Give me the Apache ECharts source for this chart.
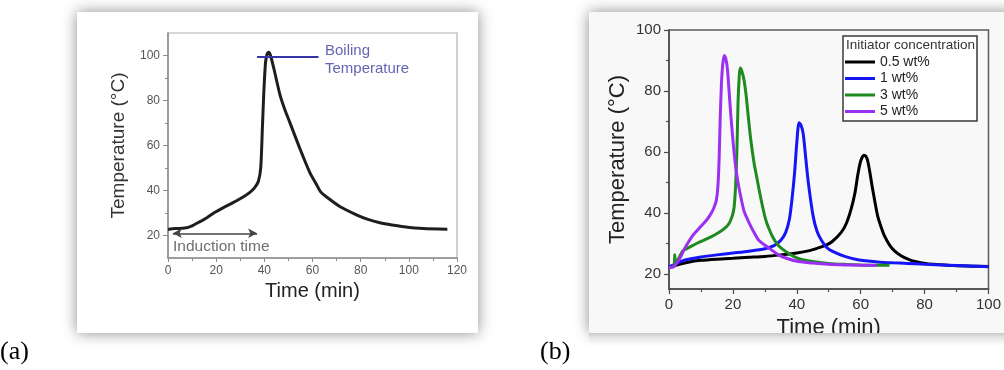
<!DOCTYPE html>
<html>
<head>
<meta charset="utf-8">
<script src="https://cdn.jsdelivr.net/npm/echarts@6/dist/echarts.min.js"></script>
<style>
html,body{margin:0;padding:0;background:#fff;}
#c{width:1004px;height:370px;}
</style>
</head>
<body>
<div id="c"></div>
<script>
// ---------- Panel (a) ----------
var tempCurveA = [
  [0,22.7],[3,23.1],[7,23.3],[10,24.3],[13,26],[16,27.8],[19,30],[23,32.4],[27,34.6],
  [31,37],[34,39.2],[36,41.3],[37.5,44],[38.5,50],[39.2,68],[39.8,84],[40.5,97],
  [41.2,100.8],[41.8,101.5],[42.5,100.2],[44,94],[46.5,82.5],[48.5,76],[50.5,70.5],
  [55,58],[59,47.7],[61.5,43],[63.3,39.5],[66,37],[71.5,32.8],[78.5,29.1],[83,27.2],
  [88,25.7],[93,24.7],[98,23.9],[106,23.1],[116,22.8]
];
var boilingLineA = [[37,99.5],[62.5,99.5]];
var inductionArrowA = [[2,21],[37,21]];
var xTicksA = [0,20,40,60,80,100,120];
var yTicksA = [20,40,60,80,100];
var yMinorA = [30,50,70,90];

// ---------- Panel (b) ----------
var seriesNamesB = ['0.5 wt%','1 wt%','3 wt%','5 wt%'];
var black05 = [
  [0,22.2],[3,23.0],[6,23.8],[10,24.4],[15,24.8],[20,25.1],[25,25.4],[30,25.7],[35,26.2],
  [40,26.8],[44,27.6],[46.5,28.4],[48.8,29.2],[51,30.5],[53.9,33.6],[55.5,36.5],[57,41.2],
  [58.2,46.5],[59.1,52.5],[60,57],[61,58.9],[61.6,58.6],[62.2,57],[63,52.5],[63.7,48],
  [65.3,39],[66.5,35],[67.4,32.5],[69,29.5],[70.5,27.6],[72.5,26],[74.6,24.9],[77,24],
  [80.8,23.3],[85,23.0],[89,22.7],[95,22.5],[100,22.4]
];
var blue1 = [
  [0,22.3],[2,23.2],[5,24.5],[10,25.5],[15,26.2],[20,26.8],[25,27.4],[30,28.2],[33,29.3],
  [35,31],[36.5,33.5],[37.7,38],[38.5,44.5],[39.3,53],[40,63],[40.7,69.6],[41.3,68.8],
  [42,66],[42.8,58],[43.6,50],[45.1,39],[46.3,34],[47.7,31],[49.5,28.5],[51.9,27],
  [55,25.7],[59.1,24.6],[65.3,23.9],[70,23.6],[74.6,23.4],[80,23.1],[90,22.7],[100,22.3]
];
var green3 = [
  [0,22],[1.6,22.6],[1.8,26.2],[2.0,23.2],[3,25],[4.3,27.5],[6,28.5],[9.5,30.4],[13,32],
  [15.7,33.6],[17.5,35],[18.8,36.5],[19.8,39],[20.4,42],[20.9,50],[21.3,62],[21.6,76],
  [22,85],[22.3,87.5],[22.8,86.5],[23.5,83.5],[24.2,78],[24.8,71.7],[25.6,64],[26.6,56.5],
  [27.5,51.5],[28.5,46],[29.3,42],[30.2,38],[31.2,35],[32.5,32],[34.3,29.2],[37,27],
  [40.5,25],[45,24],[50,23.4],[55,23.1],[60,22.9],[65,22.8],[69,22.8]
];
var purple5 = [
  [0,22],[1.5,22.3],[3.3,24.9],[5,28.5],[7.4,32.5],[9.5,35],[11.6,37.4],[13,39.5],[14,41.5],
  [14.8,44],[15.3,48.5],[15.7,58],[16,70],[16.4,82],[16.8,88.5],[17.3,91.6],[17.8,90.5],
  [18.3,87],[18.8,80],[19.3,72.8],[20,64],[20.7,56.5],[21.5,50.5],[22.4,45.6],[23.5,40.5],
  [25,36.9],[26.5,33.8],[28.1,31],[31.2,28.5],[34.3,26.2],[37,25],[40.5,24],[45,23.5],
  [50,23.1],[55,22.9],[60,22.8],[65,22.7]
];
var xTicksB = [0,20,40,60,80,100];
var yTicksB = [20,40,60,80,100];
var yMinorB = [30,50,70,90];

var FONT = 'Liberation Sans, Arial, sans-serif';
var coloursB = ['#000000','#1515f5','#1f8a1f','#9b30f2'];
var dataB = [black05, blue1, green3, purple5];

var chart = echarts.init(document.getElementById('c'), null, {renderer:'canvas'});

var seriesB = dataB.map(function(d, i){
  return {
    name: seriesNamesB[i], type:'line', xAxisIndex:1, yAxisIndex:2,
    data: d, showSymbol:false, symbol:'none', smooth:0.25,
    lineStyle:{color:coloursB[i], width:3}, itemStyle:{color:coloursB[i]},
    z: 3
  };
});

var option = {
  animation:false,
  backgroundColor:'#ffffff',
  textStyle:{fontFamily:FONT},
  graphic:[
    {type:'rect', z:-10, shape:{x:77,y:12,width:401,height:321},
     style:{fill:'#ffffff', shadowBlur:14, shadowColor:'rgba(0,0,0,0.45)', shadowOffsetX:0, shadowOffsetY:0}},
    {type:'rect', z:-10, shape:{x:589,y:12,width:430,height:321},
     style:{fill:'#f8f8f8', shadowBlur:14, shadowColor:'rgba(0,0,0,0.45)', shadowOffsetX:0, shadowOffsetY:0}},
    {type:'rect', z:50, shape:{x:589,y:333,width:425,height:37},
     style:{fill:{type:'linear', x:0, y:0, x2:0, y2:1, colorStops:[
       {offset:0, color:'#c8c8c8'},{offset:0.12, color:'#e6e6e6'},{offset:0.35, color:'#ffffff'},{offset:1, color:'#ffffff'}]}}},
    {type:'text', z:51, left:0, top:339, style:{text:'(a)', font:'26px "Liberation Serif", "Times New Roman", serif', fill:'#000'}},
    {type:'text', z:51, left:540, top:339, style:{text:'(b)', font:'26px "Liberation Serif", "Times New Roman", serif', fill:'#000'}},
    {type:'text', left:325, top:42, style:{text:'Boiling\nTemperature', font:'15px '+FONT, fill:'#6464b4', lineHeight:18}},
    {type:'text', left:173, top:239, style:{text:'Induction time', font:'15.5px '+FONT, fill:'#6f6f6f'}},
    {type:'rect', z:20, shape:{x:843,y:36,width:134,height:85},
     style:{fill:'#ffffff', stroke:'#3a3a3a', lineWidth:1.5}},
    {type:'text', z:21, left:846, top:38, style:{text:'Initiator concentration', font:'13.5px '+FONT, fill:'#333'}}
  ],
  legend:{
    z:22,
    data: seriesNamesB, orient:'vertical', left:845, top:55,
    itemWidth:30, itemHeight:3, itemGap:2.5, padding:0,
    icon: 'rect',
    textStyle:{fontSize:14, color:'#222', fontFamily:FONT, lineHeight:14},
    selectedMode:false
  },
  grid:[
    {left:168, top:33, width:289, height:225, show:true, borderColor:'#b0b0b0', borderWidth:1.2, backgroundColor:'transparent'},
    {left:669, top:30, width:323, height:259, show:true, borderColor:'#5a5a5a', borderWidth:1.5, backgroundColor:'transparent'}
  ],
  xAxis:[
    {gridIndex:0, type:'value', min:0, max:120, interval:20,
     name:'Time (min)', nameLocation:'middle', nameGap:22,
     nameTextStyle:{fontSize:20, color:'#222', fontFamily:FONT},
     axisLine:{lineStyle:{color:'#8a8a8a', width:1.5}},
     axisTick:{show:true, length:4, lineStyle:{color:'#8a8a8a'}},
     minorTick:{show:true, splitNumber:2, length:3, lineStyle:{color:'#8a8a8a'}},
     axisLabel:{fontSize:12, color:'#555', margin:7, fontFamily:FONT,
       customValues: xTicksA},
     splitLine:{show:false}},
    {gridIndex:1, type:'value', min:0, max:100, interval:20,
     name:'Time (min)', nameLocation:'middle', nameGap:26,
     nameTextStyle:{fontSize:22, color:'#222', fontFamily:FONT},
     axisLine:{lineStyle:{color:'#4a4a4a', width:1.5}},
     axisTick:{show:true, length:5, lineStyle:{color:'#4a4a4a', width:1.2}},
     minorTick:{show:true, splitNumber:2, length:3, lineStyle:{color:'#4a4a4a', width:1.2}},
     axisLabel:{fontSize:15, color:'#333', margin:8, fontFamily:FONT,
       customValues: xTicksB},
     splitLine:{show:false}}
  ],
  yAxis:[
    {gridIndex:0, type:'value', min:10, max:110, position:'left',
     name:'Temperature (°C)', nameLocation:'middle', nameGap:40,
     nameTextStyle:{fontSize:19, color:'#333', fontFamily:FONT},
     axisLine:{show:true, lineStyle:{color:'#8a8a8a', width:1.5}},
     axisTick:{show:true, length:5, customValues:yTicksA, lineStyle:{color:'#8a8a8a'}},
     axisLabel:{fontSize:12, color:'#555', margin:8, customValues:yTicksA, fontFamily:FONT},
     splitLine:{show:false}},
    {gridIndex:0, type:'value', min:10, max:110, position:'left', offset:0,
     axisLine:{show:false},
     axisTick:{show:true, length:3, customValues:yMinorA, lineStyle:{color:'#8a8a8a'}},
     axisLabel:{show:false}, splitLine:{show:false}},
    {gridIndex:1, type:'value', min:15, max:100, position:'left',
     name:'Temperature (°C)', nameLocation:'middle', nameGap:40,
     nameTextStyle:{fontSize:22, color:'#222', fontFamily:FONT},
     axisLine:{show:true, lineStyle:{color:'#4a4a4a', width:1.5}},
     axisTick:{show:true, length:5, customValues:yTicksB, lineStyle:{color:'#4a4a4a', width:1.2}},
     axisLabel:{fontSize:15, color:'#333', margin:8, customValues:yTicksB, fontFamily:FONT},
     splitLine:{show:false}},
    {gridIndex:1, type:'value', min:15, max:100, position:'left', offset:0,
     axisLine:{show:false},
     axisTick:{show:true, length:3, customValues:yMinorB, lineStyle:{color:'#4a4a4a', width:1.2}},
     axisLabel:{show:false}, splitLine:{show:false}}
  ],
  series:[
    {name:'curveA', type:'line', xAxisIndex:0, yAxisIndex:0, data:tempCurveA,
     showSymbol:false, symbol:'none', smooth:0.25,
     lineStyle:{color:'#1e1e1e', width:3}, z:3,
     markLine:{
       silent:true, animation:false, label:{show:false},
       data:[
         [{coord:boilingLineA[0], symbol:'none'},{coord:boilingLineA[1], symbol:'none'}],
         [{coord:inductionArrowA[0], symbol:'arrow', symbolSize:[7,9]},
          {coord:inductionArrowA[1], symbol:'arrow', symbolSize:[7,9]}]
       ].map(function(p, i){
         p[0].lineStyle = i===0 ? {color:'#3535a5', width:2, type:'solid'} : {color:'#444', width:1.6, type:'solid'};
         return p;
       }),
       lineStyle:{type:'solid'}
     }}
  ].concat(seriesB)
};
chart.setOption(option);
</script>
</body>
</html>
